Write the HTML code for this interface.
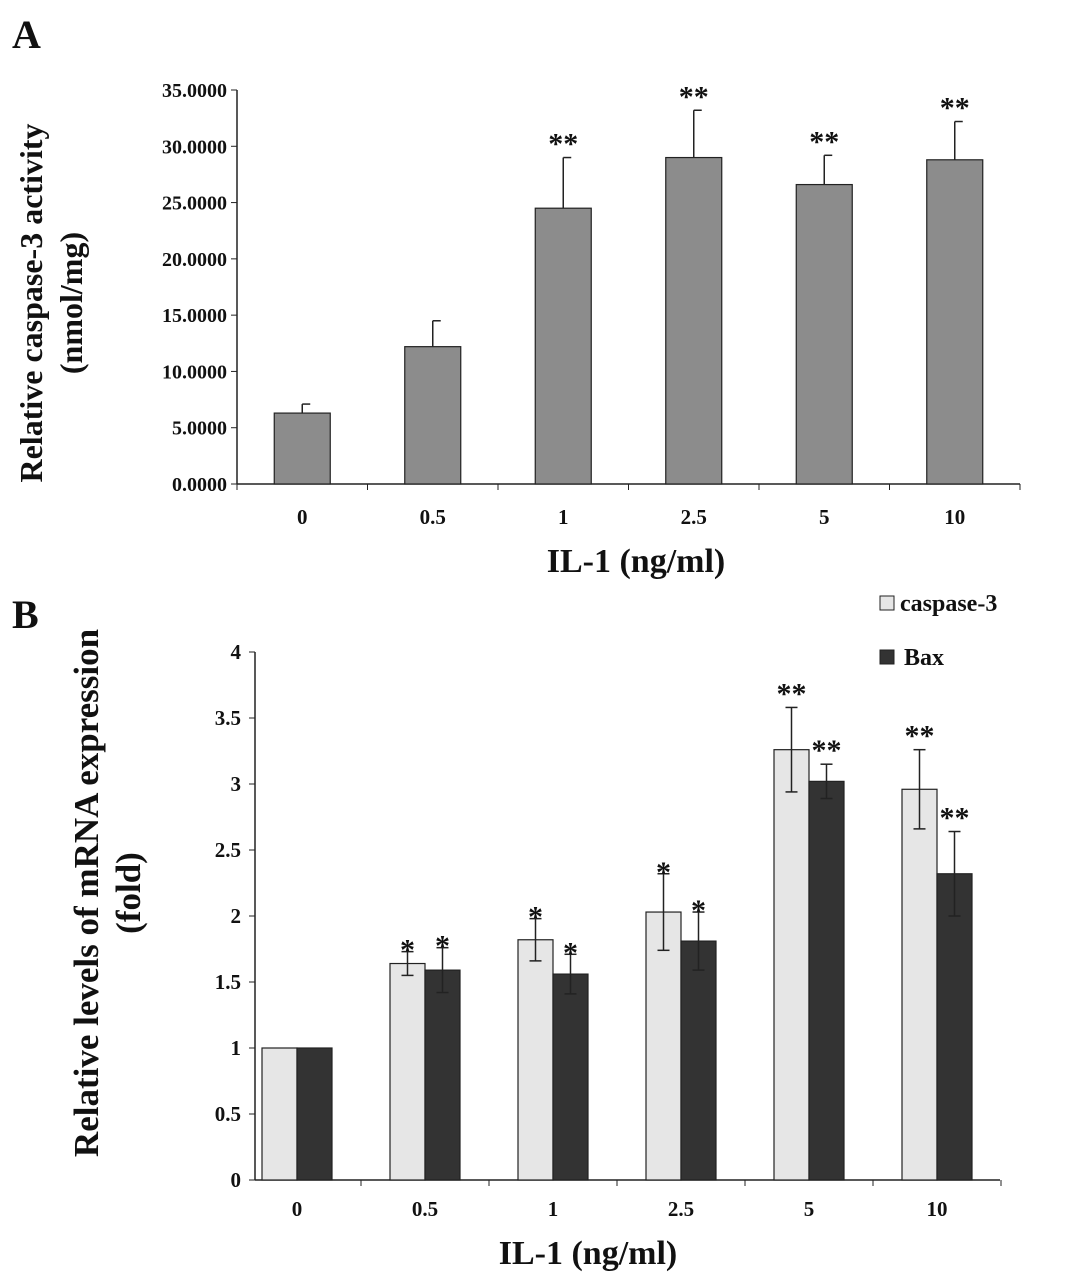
<!DOCTYPE html>
<html><head><meta charset="utf-8"><style>
body{margin:0;background:#fff}
svg text{font-family:"Liberation Serif",serif;font-weight:bold;fill:#111}
</style></head><body>
<svg id="c" width="1068" height="1281" viewBox="0 0 1068 1281" xmlns="http://www.w3.org/2000/svg"></svg>
<script>
const catsA=["0","0.5","1","2.5","5","10"];
const valsA=[6.3,12.2,24.5,29.0,26.6,28.8];
const errA=[0.8,2.3,4.5,4.2,2.6,3.4];
const sigA=["","","**","**","**","**"];
const ticksA=[0,5,10,15,20,25,30,35];
const catsB=["0","0.5","1","2.5","5","10"];
const casp=[1,1.64,1.82,2.03,3.26,2.96];
const caspErr=[0,0.09,0.16,0.29,0.32,0.30];
const bax=[1,1.59,1.56,1.81,3.02,2.32];
const baxErr=[0,0.17,0.15,0.22,0.13,0.32];
const sigCasp=["","*","*","*","**","**"];
const sigBax=["","*","*","*","**","**"];
const ticksB=[0,0.5,1,1.5,2,2.5,3,3.5,4];
const NS="http://www.w3.org/2000/svg";
const svg=document.getElementById('c');
function mk(t,a,txt){const e=document.createElementNS(NS,t);for(const k in a)e.setAttribute(k,a[k]);if(txt!==undefined)e.textContent=txt;svg.appendChild(e);return e;}
// Panel A
const yA=v=>484-v*(394/35);
const xA=i=>237+130.5*(i+0.5);
let e;
e=mk('text',{x:12,y:48,'font-size':40},'A');
e=mk('line',{x1:237,y1:90,x2:237,y2:484,stroke:'#222','stroke-width':1.5});
e=mk('line',{x1:237,y1:484,x2:1020,y2:484,stroke:'#222','stroke-width':1.5});
ticksA.forEach(t=>{mk('line',{x1:231,y1:yA(t),x2:237,y2:yA(t),stroke:'#222'});
e=mk('text',{x:227,y:yA(t)+7,'font-size':20,'text-anchor':'end'},t.toFixed(4));});
for(let i=0;i<=6;i++)mk('line',{x1:237+130.5*i,y1:484,x2:237+130.5*i,y2:490,stroke:'#222'});
catsA.forEach((c,i)=>{const x=xA(i);
e=mk('rect',{x:x-28,y:yA(valsA[i]),width:56,height:484-yA(valsA[i]),fill:'#8c8c8c',stroke:'#222','stroke-width':1.2});
const t=yA(valsA[i]+errA[i]);
mk('line',{x1:x,y1:yA(valsA[i]),x2:x,y2:t,stroke:'#222','stroke-width':1.5});mk('line',{x1:x,y1:t,x2:x+8,y2:t,stroke:'#222','stroke-width':1.5});
if(sigA[i]){e=mk('text',{x:x,y:t-4,'font-size':30,'text-anchor':'middle'},sigA[i]);}
e=mk('text',{x:x,y:524,'font-size':21,'text-anchor':'middle'},c);});
e=mk('text',{x:636,y:572,'font-size':34,'text-anchor':'middle'},'IL-1 (ng/ml)');
e=mk('text',{transform:'translate(42,303) rotate(-90)','font-size':32,'text-anchor':'middle'},'Relative caspase-3 activity');
e=mk('text',{transform:'translate(82,303) rotate(-90)','font-size':32,'text-anchor':'middle'},'(nmol/mg)');
// Panel B
const yB=v=>1180-v*132;
const xB=i=>233+128*(i+0.5);
e=mk('text',{x:12,y:628,'font-size':40},'B');
e=mk('line',{x1:255,y1:652,x2:255,y2:1180,stroke:'#222','stroke-width':1.5});
e=mk('line',{x1:255,y1:1180,x2:1000,y2:1180,stroke:'#222','stroke-width':1.5});
ticksB.forEach(t=>{mk('line',{x1:249,y1:yB(t),x2:255,y2:yB(t),stroke:'#222'});
e=mk('text',{x:241,y:yB(t)+7,'font-size':21,'text-anchor':'end'},String(t));});
for(let i=1;i<=6;i++)mk('line',{x1:233+128*i,y1:1180,x2:233+128*i,y2:1186,stroke:'#222'});
function barB(x,v,er,fill,sig,name){
e=mk('rect',{x:x,y:yB(v),width:35,height:1180-yB(v),fill:fill,stroke:'#222','stroke-width':1.2});
const cx=x+17.5;
if(er>0){const t=yB(v+er),b=yB(v-er);
mk('line',{x1:cx,y1:t,x2:cx,y2:b,stroke:'#222','stroke-width':1.5});mk('line',{x1:cx-6,y1:t,x2:cx+6,y2:t,stroke:'#222','stroke-width':1.5});mk('line',{x1:cx-6,y1:b,x2:cx+6,y2:b,stroke:'#222','stroke-width':1.5});}
if(sig){e=mk('text',{x:cx,y:yB(v+er)-4+(sig.length==1?12:0),'font-size':30,'text-anchor':'middle'},sig);}}
catsB.forEach((c,i)=>{const x=xB(i);
barB(x-35,casp[i],caspErr[i],'#e6e6e6',sigCasp[i],'b-bar-caspase3-'+c);
barB(x,bax[i],baxErr[i],'#333',sigBax[i],'b-bar-bax-'+c);
e=mk('text',{x:x,y:1216,'font-size':21,'text-anchor':'middle'},c);});
e=mk('text',{x:588,y:1264,'font-size':34,'text-anchor':'middle'},'IL-1 (ng/ml)');
e=mk('text',{transform:'translate(98,893) rotate(-90)','font-size':35,'text-anchor':'middle'},'Relative levels of mRNA expression');
e=mk('text',{transform:'translate(140,893) rotate(-90)','font-size':35,'text-anchor':'middle'},'(fold)');
e=mk('rect',{x:880,y:596,width:14,height:14,fill:'#e6e6e6',stroke:'#222'});
e=mk('text',{x:900,y:611,'font-size':24},'caspase-3');
e=mk('rect',{x:880,y:650,width:14,height:14,fill:'#333',stroke:'#222'});
e=mk('text',{x:904,y:665,'font-size':24},'Bax');
</script>
</body></html>
